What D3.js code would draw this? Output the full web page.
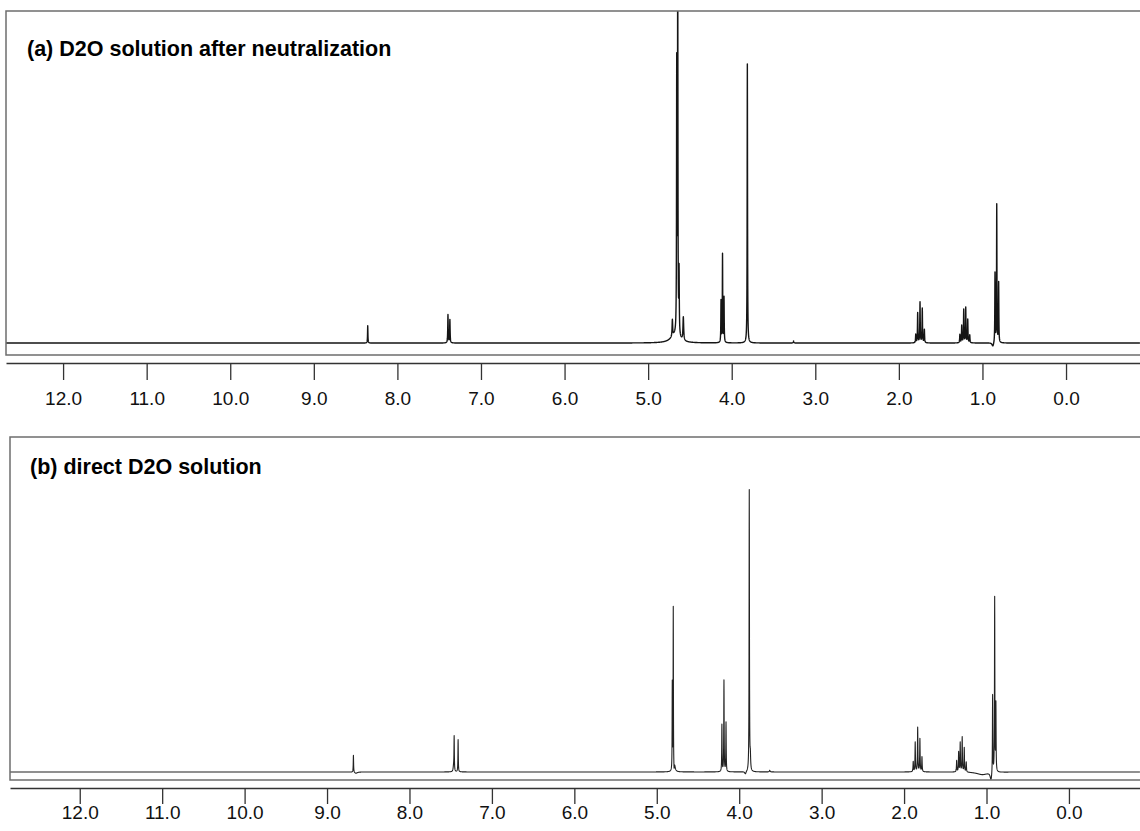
<!DOCTYPE html>
<html>
<head>
<meta charset="utf-8">
<script src="https://cdn.jsdelivr.net/npm/d3@7"></script>
<style>
  body { margin: 0; background: #fff; }
  svg { display: block; }
  text { font-family: "Liberation Sans", Arial, Helvetica, sans-serif; }
</style>
</head>
<body>
<svg id="chart" width="1140" height="831"></svg>
<script>
// Chemical-shift tick labels (ppm)
const ppmTicks = [12, 11, 10, 9, 8, 7, 6, 5, 4, 3, 2, 1, 0];

const titleA = "(a) D2O solution after neutralization";
const titleB = "(b) direct D2O solution";

// Resonances: [shift (ppm), intensity (% of full scale), half-width (ppm)]
const peaksA = [
  [8.355, 5.2, 0.0025],
  [7.395, 8.5, 0.003],
  [7.372, 7.0, 0.003],
  [4.680, 2.2, 0.06],
  [4.710, 5.0, 0.004],
  [4.658, 80, 0.0025],
  [4.646, 125, 0.0025],
  [4.630, 19, 0.003],
  [4.579, 7.0, 0.005],
  [4.128, 12.5, 0.0025],
  [4.110, 26.5, 0.0025],
  [4.092, 13.5, 0.0025],
  [3.813, 84, 0.0025],
  [3.260, 0.6, 0.004],
  [1.798, 2.5, 0.003],
  [1.775, 9.0, 0.003],
  [1.747, 12.2, 0.003],
  [1.720, 10.3, 0.003],
  [1.695, 4.0, 0.003],
  [1.270, 2.5, 0.003],
  [1.248, 5.2, 0.003],
  [1.224, 10.0, 0.003],
  [1.200, 10.6, 0.003],
  [1.176, 7.0, 0.003],
  [1.152, 2.3, 0.003],
  [0.875, -1.2, 0.012],
  [0.850, 21, 0.0025],
  [0.829, 41.5, 0.0025],
  [0.806, 18, 0.0025]
];

const peaksB = [
  [8.680, 5.1, 0.0025],
  [8.650, -0.4, 0.02],
  [7.465, 1.5, 0.006],
  [7.458, 10.2, 0.0025],
  [7.410, 9.6, 0.0025],
  [4.812, 26, 0.002],
  [4.800, 48.5, 0.002],
  [4.790, -2.5, 0.004],
  [4.785, 2.0, 0.01],
  [4.210, 14, 0.0025],
  [4.185, 27.2, 0.0025],
  [4.160, 14.7, 0.0025],
  [3.925, -0.8, 0.01],
  [3.878, 84, 0.0025],
  [3.865, 4.0, 0.004],
  [3.630, 0.5, 0.005],
  [1.889, 3.0, 0.003],
  [1.865, 8.8, 0.003],
  [1.835, 13.2, 0.003],
  [1.808, 9.8, 0.003],
  [1.783, 4.4, 0.003],
  [1.362, 3.4, 0.003],
  [1.338, 5.9, 0.003],
  [1.319, 8.7, 0.003],
  [1.295, 10.4, 0.003],
  [1.270, 7.2, 0.003],
  [1.246, 3.0, 0.003],
  [1.050, -0.8, 0.08],
  [0.945, -2.5, 0.012],
  [0.926, 23.5, 0.0025],
  [0.901, 52, 0.0025],
  [0.886, 20, 0.0025]
];

const panels = [
  { id: "a", title: titleA, peaks: peaksA,
    ppmDomain: [12.683, -0.885], xRange: [6, 1140],
    yDomain: [-3.6, 100], yRange: [355, 11],
    axisY: 363, tickLen: 17, labelBaseline: 405,
    titleX: 27, titleY: 56, stroke: "#151515", strokeWidth: 1.4 },
  { id: "b", title: titleB, peaks: peaksB,
    ppmDomain: [12.846, -0.862], xRange: [10, 1140],
    yDomain: [-2.4, 100], yRange: [780, 437],
    axisY: 788, tickLen: 16, labelBaseline: 819,
    titleX: 30, titleY: 474, stroke: "#222", strokeWidth: 1.1 }
];

const svg = d3.select("#chart");

// Sum of Lorentzian lines at a given shift
function intensityAt(ppm, peaks) {
  let s = 0;
  for (const [c, h, w] of peaks) {
    const u = (ppm - c) / w;
    s += h / (1 + u * u);
  }
  return s;
}

panels.forEach(p => {
  const x = d3.scaleLinear().domain(p.ppmDomain).range(p.xRange);
  const y = d3.scaleLinear().domain(p.yDomain).range(p.yRange);
  const g = svg.append("g").attr("class", "panel-" + p.id);

  // sampling grid across the spectral window, plus every line centre
  const hi = p.ppmDomain[0], lo = p.ppmDomain[1];
  const grid = d3.range(hi, lo, -0.001).concat(p.peaks.map(d => d[0]));
  grid.sort((a, b) => b - a);
  const trace = grid.map(v => [v, intensityAt(v, p.peaks)]);

  const top = p.yRange[1], bottom = p.yRange[0];
  g.append("clipPath").attr("id", "clip-" + p.id)
    .append("rect")
    .attr("x", p.xRange[0]).attr("y", top)
    .attr("width", p.xRange[1] - p.xRange[0]).attr("height", bottom - top);

  // spectrum
  g.append("path")
    .datum(trace)
    .attr("clip-path", "url(#clip-" + p.id + ")")
    .attr("fill", "none")
    .attr("stroke", p.stroke)
    .attr("stroke-width", p.strokeWidth)
    .attr("stroke-linejoin", "round")
    .attr("d", d3.line().x(d => x(d[0])).y(d => y(d[1])));

  // plot frame (top, left, bottom)
  g.append("path")
    .attr("fill", "none")
    .attr("stroke", "#6e6e6e")
    .attr("stroke-width", 1.5)
    .attr("d", `M${p.xRange[1]},${top}H${p.xRange[0]}V${bottom}H${p.xRange[1]}`);

  // ppm axis
  const axis = d3.axisBottom(x)
    .tickValues(ppmTicks)
    .tickFormat(d3.format(".1f"))
    .tickSize(p.tickLen)
    .tickSizeOuter(0);
  const ag = g.append("g")
    .attr("transform", `translate(0,${p.axisY})`)
    .call(axis);
  ag.select(".domain").attr("stroke", "#333").attr("stroke-width", 1.3);
  ag.selectAll(".tick line").attr("stroke", "#333").attr("stroke-width", 1.3);
  ag.selectAll(".tick text")
    .attr("y", p.labelBaseline - p.axisY)
    .attr("dy", null)
    .attr("fill", "#111")
    .style("font-size", "19px");

  // panel title
  g.append("text")
    .attr("x", p.titleX).attr("y", p.titleY)
    .attr("fill", "#000")
    .style("font-size", "21.5px")
    .style("font-weight", "bold")
    .text(p.title);
});
</script>
</body>
</html>
